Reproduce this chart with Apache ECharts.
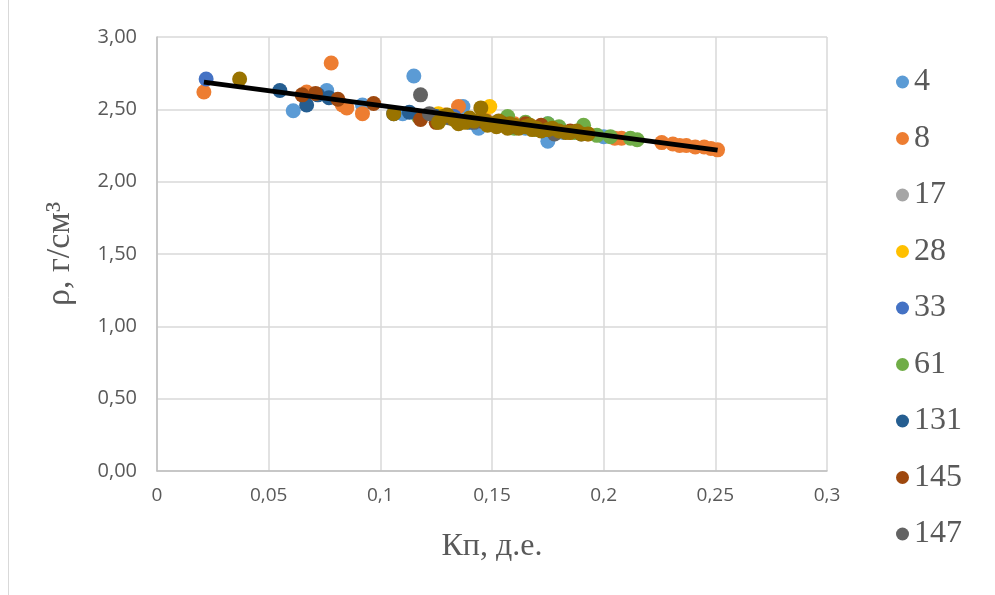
<!DOCTYPE html>
<html>
<head>
<meta charset="utf-8">
<script src="https://cdn.jsdelivr.net/npm/echarts@6/dist/echarts.min.js"></script>
<style>html,body{margin:0;padding:0;background:#fff}#c{width:995px;height:595px}</style>
</head>
<body>
<div id="c"></div>
<script>
var seriesNames = ['4','8','17','28','33','61','131','145','147','Ряд10'];
var legendNames = ['4','8','17','28','33','61','131','145','147'];
var colors = ['#5B9BD5','#ED7D31','#A5A5A5','#FFC000','#4472C4','#70AD47','#255E91','#9E480E','#636363','#997300'];

var s4 = [[0.061,2.49],[0.076,2.63],[0.115,2.73],[0.092,2.53],[0.110,2.47],[0.132,2.45],[0.137,2.52],[0.144,2.37],[0.150,2.40],[0.158,2.38],[0.165,2.37],[0.175,2.28],[0.175,2.40],[0.182,2.34],[0.200,2.31]];
var s8 = [[0.021,2.62],[0.067,2.62],[0.078,2.82],[0.083,2.53],[0.085,2.51],[0.092,2.47],[0.129,2.46],[0.135,2.52],[0.147,2.43],[0.160,2.40],[0.168,2.38],[0.185,2.34],[0.193,2.33],[0.205,2.30],[0.208,2.30],[0.226,2.27],[0.231,2.26],[0.234,2.25],[0.237,2.25],[0.241,2.24],[0.245,2.24],[0.248,2.23],[0.251,2.22]];
var s17 = [[0.140,2.42],[0.155,2.39],[0.170,2.37]];
var s28 = [[0.118,2.45],[0.126,2.47],[0.149,2.52],[0.153,2.41]];
var s33 = [[0.022,2.71],[0.133,2.45]];
var s61 = [[0.117,2.45],[0.128,2.44],[0.157,2.45],[0.160,2.37],[0.165,2.41],[0.170,2.36],[0.175,2.40],[0.180,2.38],[0.187,2.34],[0.191,2.39],[0.197,2.32],[0.203,2.31],[0.212,2.30],[0.215,2.29]];
var s131 = [[0.055,2.63],[0.067,2.53],[0.072,2.60],[0.077,2.58],[0.106,2.47],[0.113,2.48],[0.125,2.45],[0.140,2.41]];
var s145 = [[0.065,2.60],[0.071,2.61],[0.081,2.57],[0.097,2.54],[0.118,2.43],[0.125,2.41],[0.145,2.42],[0.155,2.40],[0.165,2.40],[0.172,2.39],[0.185,2.35]];
var s147 = [[0.118,2.60],[0.122,2.47],[0.131,2.44],[0.142,2.41],[0.160,2.38],[0.178,2.33],[0.190,2.33]];
var s10 = [[0.037,2.71],[0.106,2.47],[0.126,2.41],[0.128,2.45],[0.130,2.46],[0.133,2.43],[0.135,2.40],[0.138,2.41],[0.140,2.44],[0.142,2.42],[0.145,2.51],[0.147,2.42],[0.148,2.39],[0.150,2.40],[0.152,2.38],[0.153,2.42],[0.155,2.39],[0.157,2.37],[0.158,2.40],[0.160,2.39],[0.162,2.37],[0.165,2.38],[0.167,2.39],[0.168,2.36],[0.170,2.37],[0.172,2.35],[0.175,2.36],[0.177,2.37],[0.180,2.35],[0.183,2.34],[0.185,2.34],[0.188,2.35],[0.190,2.33],[0.193,2.33]];
var allData = [s4,s8,s17,s28,s33,s61,s131,s145,s147,s10];
var trend = [[0.021,2.688],[0.251,2.218]];

var xTicks = ['0','0,05','0,1','0,15','0,2','0,25','0,3'];
var yTicks = ['0,00','0,50','1,00','1,50','2,00','2,50','3,00'];

var series = allData.map(function(d,i){
  return {type:'scatter', name:seriesNames[i], data:d, symbolSize:15,
    itemStyle:{color:colors[i], opacity:1}, z:2};
});
series.push({type:'line', name:'trend', data:trend, symbol:'none', z:5,
  lineStyle:{color:'#000', width:5}, itemStyle:{color:'#000'}});

var chart = echarts.init(document.getElementById('c'));
chart.setOption({
  animation:false,
  backgroundColor:'#fff',
  color: colors,
  grid:{left:157, right:168, top:37, bottom:124},
  graphic:[{type:'line', shape:{x1:8.5,y1:0,x2:8.5,y2:595}, style:{stroke:'#d9d9d9', lineWidth:1}}],
  legend:{orient:'vertical', left:891, top:60, itemWidth:13, itemHeight:13, itemGap:22.5,
    icon:'circle', data:legendNames,
    textStyle:{fontFamily:'Liberation Serif', fontSize:32, color:'#595959', lineHeight:34}},
  xAxis:{type:'value', min:0, max:0.3, interval:0.05,
    name:'Кп, д.е.', nameLocation:'middle', nameGap:60,
    nameTextStyle:{fontFamily:'Liberation Serif', fontSize:32, color:'#595959'},
    axisLine:{show:true, lineStyle:{color:'#bfbfbf', width:1.5}},
    axisTick:{show:false},
    axisLabel:{margin:15, fontFamily:'Open Sans', fontSize:19, color:'#595959',
      formatter:function(v){ return xTicks[Math.round(v/0.05)]; }},
    splitLine:{show:true, lineStyle:{color:'#d9d9d9', width:1.5}}},
  yAxis:{type:'value', min:0, max:3, interval:0.5,
    name:'ρ, г/см³', nameLocation:'middle', nameGap:80, nameRotate:90,
    nameTextStyle:{fontFamily:'Liberation Serif', fontSize:34, color:'#595959'},
    axisLine:{show:true, lineStyle:{color:'#bfbfbf', width:1.5}},
    axisTick:{show:false},
    axisLabel:{margin:20, fontFamily:'Open Sans', fontSize:20, color:'#595959',
      formatter:function(v){ return yTicks[Math.round(v/0.5)]; }},
    splitLine:{show:true, lineStyle:{color:'#d9d9d9', width:1.5}}},
  series: series
});
</script>
</body>
</html>
